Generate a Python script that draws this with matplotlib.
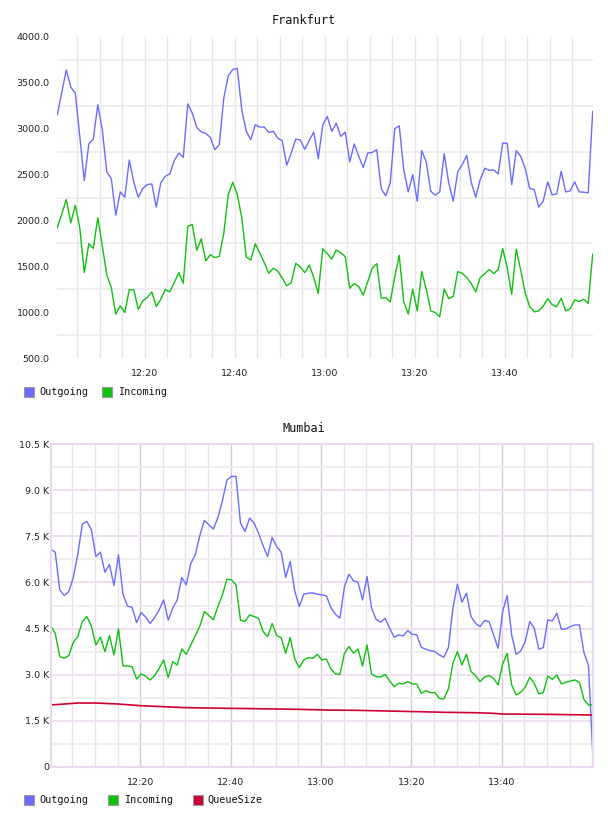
import matplotlib
matplotlib.use('Agg')
import matplotlib.pyplot as plt
import matplotlib.dates as mdates
from matplotlib.patches import Rectangle
from matplotlib.ticker import FixedLocator, FuncFormatter, NullFormatter
import pandas as pd

# ---------------- data ----------------
frankfurt_start = "2024-01-01 12:00:36"
mumbai_start = "2024-01-01 12:00:12"

frankfurt_outgoing = [
    3152, 3398, 3641, 3453, 3387, 2916, 2434, 2833, 2887, 3261,
    2989, 2529, 2456, 2058, 2311, 2253, 2659, 2416, 2253, 2348,
    2391, 2398, 2145, 2409, 2482, 2507, 2652, 2735, 2688, 3271,
    3170, 3014, 2963, 2949, 2906, 2771, 2826, 3333, 3579, 3645,
    3659, 3206, 2971, 2880, 3043, 3018, 3018, 2960, 2971, 2898,
    2869, 2601, 2735, 2887, 2877, 2775, 2873, 2963, 2674, 3040,
    3134, 2971, 3061, 2916, 2963, 2637, 2833, 2699, 2579, 2735,
    2742, 2771, 2344, 2268, 2409, 3000, 3032, 2554, 2311, 2500,
    2210, 2761, 2637, 2319, 2275, 2311, 2728, 2409, 2210, 2529,
    2608, 2710, 2416, 2253, 2445, 2569, 2547, 2550, 2507, 2844,
    2840, 2391, 2761, 2699, 2565, 2348, 2337, 2145, 2210, 2420,
    2279, 2290, 2536, 2311, 2322, 2420, 2311, 2308, 2300, 3188]

frankfurt_incoming = [
    1920, 2072, 2228, 1974, 2166, 1920, 1431, 1746, 1695, 2029,
    1721, 1406, 1268, 978, 1069, 996, 1246, 1243, 1029, 1123,
    1159, 1221, 1061, 1141, 1246, 1221, 1322, 1431, 1315, 1938,
    1956, 1674, 1800, 1558, 1627, 1594, 1608, 1858, 2282, 2416,
    2282, 2029, 1601, 1569, 1746, 1645, 1540, 1424, 1478, 1449,
    1369, 1286, 1322, 1532, 1493, 1431, 1514, 1377, 1203, 1692,
    1637, 1579, 1677, 1648, 1605, 1261, 1311, 1279, 1185, 1333,
    1478, 1529, 1152, 1159, 1112, 1384, 1619, 1116, 978, 1250,
    1014, 1442, 1250, 1014, 996, 949, 1253, 1148, 1170, 1442,
    1424, 1377, 1311, 1221, 1377, 1420, 1464, 1420, 1467, 1695,
    1485, 1195, 1685, 1456, 1210, 1058, 1003, 1014, 1065, 1148,
    1080, 1058, 1152, 1014, 1036, 1134, 1116, 1141, 1094, 1630]

mumbai_outgoing = [
    7082, 6984, 5758, 5574, 5704, 6160, 6919, 7896, 7983, 7711,
    6843, 6984, 6333, 6583, 5899, 6897, 5617, 5227, 5194, 4695,
    5020, 4879, 4662, 4858, 5107, 5433, 4771, 5162, 5433, 6160,
    5921, 6615, 6897, 7527, 8015, 7874, 7733, 8113, 8655, 9328,
    9447, 9447, 7928, 7657, 8091, 7928, 7603, 7190, 6843, 7462,
    7169, 6984, 6160, 6681, 5726, 5216, 5617, 5650, 5661, 5617,
    5596, 5563, 5183, 4966, 4836, 5867, 6268, 6051, 6008, 5433,
    6192, 5162, 4803, 4706, 4836, 4511, 4218, 4294, 4261, 4434,
    4315, 4294, 3892, 3827, 3784, 3751, 3643, 3567, 3881, 5162,
    5943, 5357, 5650, 4890, 4673, 4565, 4760, 4728, 4294, 3860,
    5053, 5574, 4294, 3664, 3773, 4077, 4728, 4511, 3827, 3881,
    4782, 4749, 5000, 4478, 4489, 4565, 4619, 4619, 3718, 3295,
    279]

mumbai_incoming = [
    4586, 4348, 3588, 3534, 3621, 4055, 4239, 4728, 4890, 4586,
    3968, 4218, 3751, 4272, 3643, 4489, 3284, 3284, 3263, 2861,
    3024, 2959, 2829, 2970, 3209, 3480, 2905, 3426, 3317, 3838,
    3664, 3968, 4272, 4576, 5053, 4923, 4782, 5216, 5596, 6106,
    6084, 5921, 4771, 4728, 4945, 4890, 4836, 4402, 4239, 4662,
    4272, 4207, 3697, 4207, 3512, 3230, 3480, 3556, 3534, 3664,
    3480, 3512, 3187, 3024, 3013, 3697, 3914, 3697, 3838, 3284,
    3968, 3024, 2937, 2926, 3013, 2796, 2612, 2720, 2699, 2775,
    2699, 2699, 2395, 2482, 2417, 2417, 2232, 2210, 2536, 3371,
    3751, 3317, 3664, 3100, 2970, 2775, 2926, 2970, 2883, 2666,
    3339, 3697, 2666, 2341, 2427, 2590, 2916, 2720, 2373, 2417,
    2959, 2850, 2992, 2699, 2753, 2796, 2829, 2753, 2200, 2015,
    2015]

queue_times = ["12:00:12", "12:06:12", "12:10:12", "12:15:12", "12:20:12",
               "12:25:12", "12:30:12", "12:35:12", "12:40:12", "12:45:12",
               "12:50:12", "12:55:12", "13:01:12", "13:08:12", "13:18:12",
               "13:28:12", "13:34:12", "13:38:12", "13:40:12", "13:50:12",
               "14:00:12"]
queue_size = [2015, 2080, 2080, 2047, 1993, 1961, 1928, 1917, 1906, 1896,
              1885, 1874, 1852, 1841, 1809, 1776, 1765, 1744, 1722, 1711, 1690]

x_tick_labels = ["12:20", "12:40", "13:00", "13:20", "13:40"]
frankfurt_yticks = [500, 1000, 1500, 2000, 2500, 3000, 3500, 4000]
mumbai_yticks = [0, 1500, 3000, 4500, 6000, 7500, 9000, 10500]
series_names = ["Outgoing", "Incoming", "QueueSize"]

# ---------------- style ----------------
C_OUT = '#6b6bff'
C_IN = '#11c011'
C_Q = '#cc0033'
MONO = 'DejaVu Sans Mono'
TICK_FONT = dict(family='DejaVu Sans', size=6.8, color='#222222')

W, H = 608, 816
fig = plt.figure(figsize=(W / 100, H / 100), dpi=100)


def rect(l, t, r, b):
    return [l / W, 1 - b / H, (r - l) / W, (b - t) / H]


day = "2024-01-01 "
t_fra = pd.date_range(frankfurt_start, periods=len(frankfurt_outgoing), freq='min')
t_mum = pd.date_range(mumbai_start, periods=len(mumbai_outgoing), freq='min')
t_q = pd.to_datetime([day + s for s in queue_times])
tick_pos = pd.to_datetime([day + s for s in x_tick_labels])

# ---------- Frankfurt ----------
ax1 = fig.add_axes(rect(57.3, 37, 592.7, 358))
ax1.plot(t_fra, frankfurt_outgoing, color=C_OUT, lw=1.0)
ax1.plot(t_fra, frankfurt_incoming, color=C_IN, lw=1.0)
ax1.set_xlim(t_fra[0], t_fra[-1])
ax1.set_ylim(500, 4000)
ax1.set_axisbelow(True)
for s in ax1.spines.values():
    s.set_visible(False)
ax1.yaxis.set_major_locator(FixedLocator(frankfurt_yticks))
ax1.yaxis.set_major_formatter(FuncFormatter(lambda v, p: f"{v:.1f}"))
ax1.yaxis.set_minor_locator(FixedLocator([v + 250 for v in frankfurt_yticks[:-1]]))
ax1.yaxis.grid(True, which='minor', color='#ececec', lw=1.2)
ax1.xaxis.set_major_locator(FixedLocator(mdates.date2num(tick_pos)))
ax1.xaxis.set_major_formatter(mdates.DateFormatter('%H:%M'))
ax1.xaxis.set_minor_locator(mdates.MinuteLocator(byminute=range(0, 60, 5)))
ax1.xaxis.grid(True, which='both', color='#e6e6e6', lw=1.0)
ax1.tick_params(which='both', length=0)
ax1.tick_params(axis='y', pad=5.5)
ax1.tick_params(axis='x', pad=8)
for lab in ax1.get_xticklabels() + ax1.get_yticklabels():
    lab.set(**TICK_FONT)
fig.text(304 / W, 1 - 20 / H, "Frankfurt", ha='center', va='center',
         family=MONO, fontsize=8.5, color='#111111')

# ---------- Mumbai ----------
ax2 = fig.add_axes(rect(50.7, 444, 593, 767))
ax2.plot(t_mum, mumbai_outgoing, color=C_OUT, lw=1.0)
ax2.plot(t_mum, mumbai_incoming, color=C_IN, lw=1.0)
ax2.plot(t_q, queue_size, color=C_Q, lw=1.2)
ax2.set_xlim(t_mum[0], t_mum[-1])
ax2.set_ylim(0, 10500)
ax2.set_axisbelow(True)
for s in ax2.spines.values():
    s.set_color('#ead8ee')
    s.set_linewidth(1.5)
ax2.yaxis.set_major_locator(FixedLocator(mumbai_yticks))
ax2.yaxis.set_major_formatter(FuncFormatter(
    lambda v, p: "0" if v == 0 else f"{v / 1000:.1f} K"))
ax2.yaxis.set_minor_locator(FixedLocator([v + 750 for v in mumbai_yticks[:-1]]))
ax2.yaxis.grid(True, which='major', color='#efe0f0', lw=1.4)
ax2.yaxis.grid(True, which='minor', color='#eeeeee', lw=1.2)
ax2.xaxis.set_major_locator(FixedLocator(mdates.date2num(tick_pos)))
ax2.xaxis.set_major_formatter(mdates.DateFormatter('%H:%M'))
ax2.xaxis.set_minor_locator(mdates.MinuteLocator(byminute=range(0, 60, 5)))
ax2.xaxis.grid(True, which='major', color='#dcc4de', lw=1.0)
ax2.xaxis.grid(True, which='minor', color='#ebe3ec', lw=1.0)
ax2.tick_params(which='both', length=0)
ax2.tick_params(axis='y', pad=1)
ax2.tick_params(axis='x', pad=8)
for lab in ax2.get_xticklabels() + ax2.get_yticklabels():
    lab.set(**TICK_FONT)
fig.text(304 / W, 1 - 429 / H, "Mumbai", ha='center', va='center',
         family=MONO, fontsize=8.5, color='#111111')

# ---------- legends ----------
def legend_item(x_box, x_text, y_top, color, label):
    fig.patches.append(Rectangle((x_box / W, 1 - (y_top + 10) / H), 10 / W, 10 / H,
                                 transform=fig.transFigure, facecolor=color,
                                 edgecolor='#999999', lw=0.8))
    fig.text(x_text / W, 1 - (y_top + 5) / H, label, ha='left', va='center',
             family=MONO, fontsize=7.3, color='#111111')


legend_item(24, 39, 387, C_OUT, series_names[0])
legend_item(102, 118, 387, C_IN, series_names[1])
legend_item(24, 39, 795, C_OUT, series_names[0])
legend_item(108, 124, 795, C_IN, series_names[1])
legend_item(193, 207, 795, C_Q, series_names[2])

fig.savefig('out.png', dpi=100)
